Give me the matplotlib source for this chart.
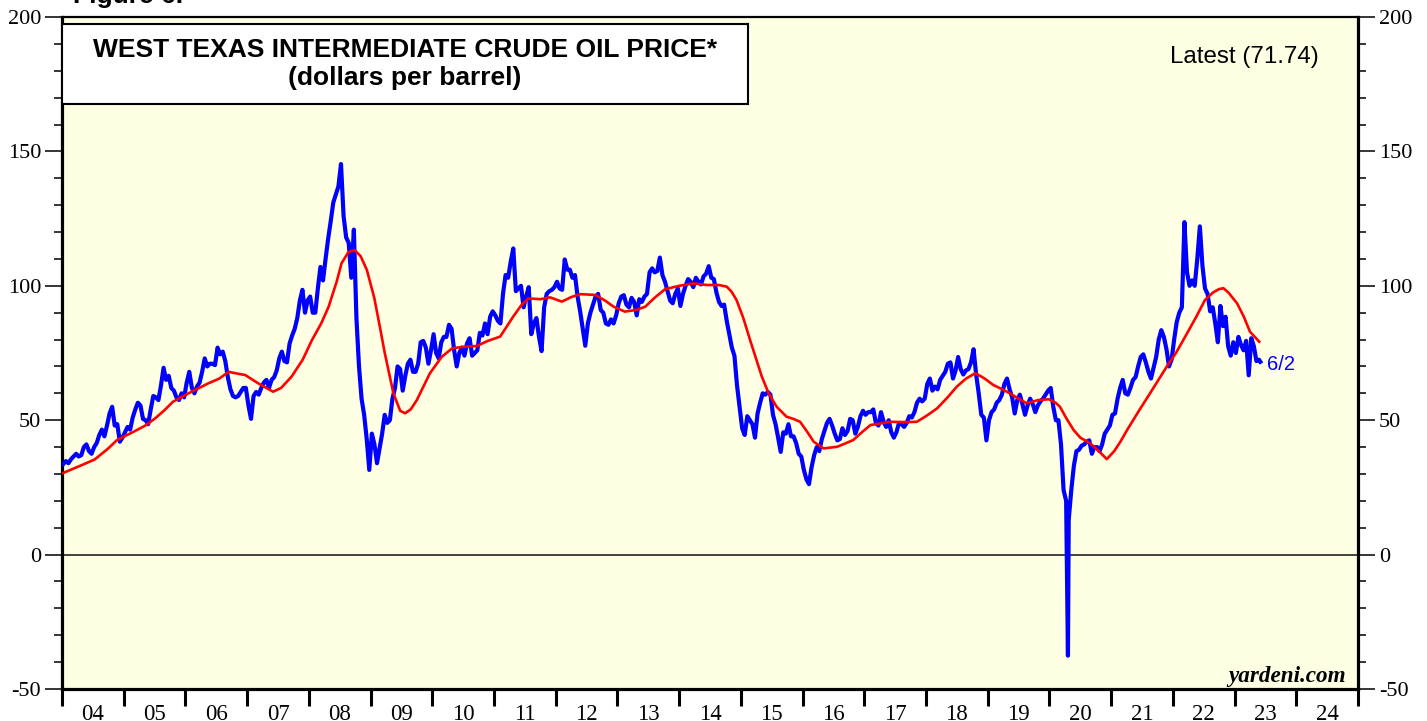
import numpy as np
import matplotlib
matplotlib.use("Agg")
import matplotlib.pyplot as plt
from matplotlib.patches import Rectangle
from matplotlib.ticker import MultipleLocator, FixedLocator

plt.rcParams['font.family'] = ['Liberation Serif', 'DejaVu Serif']
plt.rcParams['axes.unicode_minus'] = False

# WTI price, two readings per month (around the 8th and 22nd)
wti_2004 = [33.7, 34.8, 34.0, 35.5, 36.5, 37.5, 36.5, 37.0, 40.0, 41.0, 38.5, 37.5,
            40.0, 41.5, 44.5, 46.5, 44.0, 48.0, 52.5, 55.0, 48.0, 48.5, 42.0, 43.5]
wti_2005 = [45.5, 47.5, 46.5, 51.0, 54.0, 56.5, 55.5, 50.5, 50.0, 48.5, 54.0, 59.0,
            58.5, 57.5, 63.0, 69.5, 65.0, 66.5, 62.0, 61.0, 58.5, 57.5, 60.0, 58.5]
wti_2006 = [64.0, 68.0, 62.0, 60.0, 62.5, 64.0, 68.0, 73.0, 70.0, 71.0, 71.0, 70.5,
            77.0, 74.5, 75.5, 72.0, 66.0, 61.5, 59.0, 58.5, 59.0, 60.5, 62.0, 62.0]
wti_2007 = [55.5, 50.5, 59.0, 60.5, 59.5, 62.0, 64.0, 65.0, 62.0, 65.0, 66.0, 68.5,
            73.0, 75.5, 72.0, 71.5, 78.5, 81.5, 84.0, 88.0, 94.5, 98.5, 90.0, 94.5]
wti_2008 = [96.0, 90.0, 90.0, 99.0, 107.0, 102.0, 110.0, 117.5, 124.0, 131.0, 134.0, 137.0,
            145.3, 126.0, 118.0, 116.0, 103.0, 120.9, 88.0, 70.0, 58.0, 52.0, 43.0, 31.5]
wti_2009 = [45.0, 41.0, 34.0, 39.5, 45.0, 52.0, 49.0, 50.0, 58.0, 62.0, 70.0, 69.0,
            61.0, 66.5, 71.0, 72.5, 68.0, 68.0, 71.0, 79.0, 79.5, 77.0, 71.0, 76.0]
wti_2010 = [82.0, 75.0, 73.0, 79.0, 81.0, 81.0, 85.5, 84.0, 76.0, 70.0, 75.0, 77.0,
            74.0, 78.5, 80.5, 74.0, 75.0, 76.0, 82.5, 81.5, 86.0, 82.0, 88.5, 90.5]
wti_2011 = [89.0, 87.0, 86.0, 97.0, 104.0, 103.0, 109.0, 113.9, 98.0, 99.0, 100.0, 92.0,
            96.0, 99.5, 82.0, 86.0, 88.0, 81.0, 75.7, 92.0, 97.0, 98.0, 98.5, 99.5]
wti_2012 = [101.5, 99.0, 98.5, 109.8, 106.0, 106.0, 103.0, 104.0, 96.0, 90.5, 84.0, 77.7,
            86.0, 90.0, 93.0, 96.0, 97.0, 91.0, 90.0, 86.0, 85.5, 87.5, 86.0, 89.0]
wti_2013 = [93.5, 96.0, 96.5, 93.0, 92.0, 95.5, 94.0, 89.0, 95.0, 94.0, 96.0, 97.0,
            105.0, 106.5, 105.0, 105.5, 110.5, 104.0, 101.5, 98.0, 94.5, 93.5, 97.0, 99.0]
wti_2014 = [92.5, 97.0, 100.0, 102.5, 101.5, 99.5, 103.0, 101.5, 100.5, 103.5, 104.5, 107.3,
            103.0, 102.5, 97.5, 94.0, 92.5, 93.0, 87.0, 82.0, 77.0, 74.0, 63.0, 55.0]
wti_2015 = [47.0, 44.5, 51.5, 50.0, 48.5, 43.5, 52.5, 56.5, 60.0, 59.5, 60.5, 59.5,
            52.0, 48.5, 43.5, 38.2, 45.5, 45.0, 48.5, 44.0, 44.0, 41.5, 37.5, 36.5]
wti_2016 = [31.5, 28.0, 26.2, 32.5, 37.0, 40.0, 38.5, 43.0, 46.0, 49.0, 50.5, 48.0,
            45.0, 42.5, 43.0, 47.0, 44.5, 46.0, 50.5, 50.0, 45.0, 47.5, 51.5, 53.5]
wti_2017 = [52.0, 53.0, 53.0, 54.0, 49.0, 48.0, 53.0, 49.5, 47.5, 50.0, 45.5, 43.5,
            45.5, 49.0, 48.5, 47.5, 49.0, 51.5, 51.0, 53.0, 56.5, 58.0, 57.0, 58.0]
wti_2018 = [63.5, 65.5, 61.0, 62.5, 61.5, 65.0, 66.5, 68.0, 71.0, 71.5, 65.5, 68.5,
            73.5, 69.0, 67.0, 68.5, 69.0, 71.5, 76.4, 67.0, 60.0, 52.0, 51.0, 42.5]
wti_2019 = [50.0, 53.0, 54.0, 56.5, 57.5, 59.5, 63.5, 65.5, 61.5, 58.5, 52.5, 57.5,
            59.5, 56.0, 52.0, 55.5, 58.0, 56.0, 53.0, 55.5, 57.0, 58.0, 59.5, 61.0]
wti_2020 = [62.0, 55.0, 50.0, 50.0, 41.0, 24.0, 20.0, 13.0, 24.0, 33.0, 38.5, 39.0,
            40.5, 41.0, 42.0, 42.5, 37.5, 40.0, 40.0, 38.5, 41.0, 45.0, 46.5, 48.0]
wti_2021 = [52.0, 52.5, 58.0, 62.0, 65.0, 60.0, 59.5, 62.0, 65.0, 66.0, 70.0, 73.5,
            74.5, 71.5, 68.0, 65.5, 69.5, 73.5, 80.0, 83.5, 81.0, 76.5, 70.0, 72.5]
wti_2022 = [80.0, 86.5, 90.0, 92.0, 123.7, 105.0, 100.0, 102.0, 100.0, 110.0, 122.1, 107.5,
            99.0, 97.0, 90.5, 92.0, 86.0, 79.0, 92.5, 85.0, 88.5, 77.5, 74.0, 79.0]
wti_2023 = [75.0, 81.0, 78.0, 76.0, 79.5, 66.7, 80.5, 77.5, 72.0, 72.5]

# April 20, 2020 negative settle and the latest reading (June 2)
spike_x, spike_val = 2020.30, -37.6
latest_x, latest_val = 2023.418, 71.74

# red moving average (decimal year, value)
ma_x = [2004.00, 2004.25, 2004.53, 2004.75, 2004.89, 2005.16, 2005.35, 2005.51, 2005.65, 2005.80,
        2006.10, 2006.37, 2006.55, 2006.70, 2006.85, 2006.97, 2007.18, 2007.42, 2007.55, 2007.72,
        2007.90, 2008.05, 2008.20, 2008.32, 2008.45, 2008.53, 2008.64, 2008.74, 2008.84, 2008.94,
        2009.06, 2009.15, 2009.23, 2009.37, 2009.48, 2009.56, 2009.65, 2009.75, 2009.96, 2010.15,
        2010.32, 2010.50, 2010.72, 2010.90, 2011.10, 2011.31, 2011.45, 2011.56, 2011.75, 2011.91,
        2012.10, 2012.25, 2012.40, 2012.64, 2012.80, 2012.94, 2013.12, 2013.30, 2013.45, 2013.60,
        2013.77, 2014.00, 2014.23, 2014.45, 2014.64, 2014.77, 2014.85, 2014.93, 2015.04, 2015.15,
        2015.34, 2015.45, 2015.58, 2015.74, 2015.85, 2015.96, 2016.08, 2016.18, 2016.34, 2016.56,
        2016.82, 2016.96, 2017.10, 2017.42, 2017.65, 2017.85, 2018.00, 2018.18, 2018.35, 2018.50,
        2018.65, 2018.80, 2018.95, 2019.09, 2019.20, 2019.36, 2019.50, 2019.63, 2019.82, 2019.99,
        2020.10, 2020.17, 2020.28, 2020.39, 2020.50, 2020.66, 2020.80, 2020.93, 2021.05, 2021.15,
        2021.26, 2021.45, 2021.63, 2021.78, 2021.90, 2022.05, 2022.23, 2022.38, 2022.52, 2022.65,
        2022.75, 2022.82, 2022.90, 2023.04, 2023.15, 2023.25, 2023.40]
ma_val = [30.2, 32.6, 35.4, 39.5, 42.6, 45.7, 48.0, 50.7, 53.5, 56.9,
          60.6, 63.7, 65.5, 68.0, 67.3, 66.8, 63.7, 60.6, 62.0, 66.2,
          72.5, 79.8, 86.0, 92.2, 101.5, 108.4, 112.5, 113.3, 111.0, 105.9,
          95.5, 84.8, 75.0, 60.0, 53.5, 52.6, 54.0, 57.5, 67.4, 73.5,
          76.7, 77.3, 77.6, 79.5, 81.1, 88.5, 93.0, 95.3, 95.0, 95.7,
          94.1, 95.8, 96.9, 96.6, 94.5, 92.2, 90.4, 91.0, 92.2, 95.5,
          98.7, 100.0, 100.9, 100.3, 100.3, 99.7, 97.8, 94.7, 88.0, 79.8,
          66.2, 60.0, 55.0, 51.3, 50.5, 49.4, 45.5, 42.0, 39.5, 40.1,
          42.6, 45.5, 48.2, 49.4, 49.3, 49.4, 51.5, 54.4, 58.5, 62.5,
          65.5, 67.5, 65.5, 63.1, 61.9, 60.0, 58.0, 56.3, 57.5, 57.8,
          56.5, 55.0, 50.5, 46.4, 43.5, 41.4, 38.5, 35.5, 38.5, 42.0,
          46.4, 53.5, 60.0, 65.5, 69.9, 75.0, 82.3, 88.5, 94.7, 97.5,
          98.8, 99.1, 97.5, 93.5, 88.5, 82.9, 79.2]

year_labels = ['04', '05', '06', '07', '08', '09', '10', '11', '12', '13', '14',
               '15', '16', '17', '18', '19', '20', '21', '22', '23', '24']

# assemble the blue series
yearly = [wti_2004, wti_2005, wti_2006, wti_2007, wti_2008, wti_2009, wti_2010,
          wti_2011, wti_2012, wti_2013, wti_2014, wti_2015, wti_2016, wti_2017,
          wti_2018, wti_2019, wti_2020, wti_2021, wti_2022, wti_2023]
xs, vs = [], []
for k, vals in enumerate(yearly):
    for i, v in enumerate(vals):
        xs.append(2004 + k + (i + 0.5) / 24)
        vs.append(v)
xs += [spike_x, latest_x]
vs += [spike_val, latest_val]
order = np.argsort(xs)
xs = np.array(xs)[order]
vs = np.array(vs)[order]

fig = plt.figure(figsize=(14.27, 7.21), dpi=100)
ax = fig.add_axes([62 / 1427, 32 / 721, 1296 / 1427, 672 / 721])
ax.set_facecolor('#FFFFE4')

ax.axhline(0, color='#222222', lw=1.2, zorder=1)
ax.plot(xs, vs, color='#0000FF', lw=3.0, solid_joinstyle='round', zorder=3)
ax.plot(ma_x, ma_val, color='#FF0000', lw=1.9, zorder=4)

ax.set_xlim(2004, 2025)
ax.set_ylim(-50, 200)

# y axis on both sides
ax.yaxis.set_major_locator(MultipleLocator(50))
ax.yaxis.set_minor_locator(MultipleLocator(10))
ax.tick_params(axis='y', which='both', direction='out', left=True, right=True,
               labelleft=True, labelright=True, labelsize=16, pad=3)
ax.tick_params(axis='y', which='major', length=12, width=1.1)
ax.tick_params(axis='y', which='minor', length=6, width=1.1)

# x axis: year boundaries as ticks, labels in the middle of each year
ax.xaxis.set_major_locator(FixedLocator(np.arange(2004, 2026)))
ax.xaxis.set_minor_locator(FixedLocator(np.arange(2004, 2025) + 0.5))
ax.set_xticklabels([], minor=False)
ax.set_xticklabels(year_labels, minor=True)
ax.tick_params(axis='x', which='major', direction='out', length=12, width=2.2)
ax.tick_params(axis='x', which='minor', length=0, labelsize=16.5, pad=11)

for side in ['left', 'right', 'bottom']:
    ax.spines[side].set_linewidth(2.3)
ax.spines['top'].set_linewidth(1.6)

# title box
ax.add_patch(Rectangle((0, 0.8705), 0.5293, 0.119, transform=ax.transAxes,
                       facecolor='white', edgecolor='black', lw=1.5, zorder=5))
ax.text(0.2647, 0.951, 'WEST TEXAS INTERMEDIATE CRUDE OIL PRICE*', transform=ax.transAxes,
        ha='center', va='center', fontsize=19, fontweight='bold',
        family='Liberation Sans', zorder=6)
ax.text(0.2647, 0.909, '(dollars per barrel)', transform=ax.transAxes,
        ha='center', va='center', fontsize=19, fontweight='bold',
        family='Liberation Sans', zorder=6)

ax.text(0.912, 0.9405, 'Latest (71.74)', transform=ax.transAxes, ha='center', va='center',
        fontsize=17.4, family='Liberation Sans')
ax.annotate('6/2', xy=(latest_x, latest_val), xytext=(4.5, -2), textcoords='offset points',
            ha='left', va='center', color='#0000FF', fontsize=14.5, family='Liberation Sans')
ax.text(0.9907, 0.0104, 'yardeni.com', transform=ax.transAxes, ha='right', va='baseline',
        fontsize=16.7, fontweight='bold', fontstyle='italic')

fig.text(73 / 1427, 1 - 3 / 721, 'Figure 6.', ha='left', va='baseline',
         fontsize=19, fontweight='bold', family='Liberation Sans')

fig.savefig('out.png', dpi=100, facecolor='white')
